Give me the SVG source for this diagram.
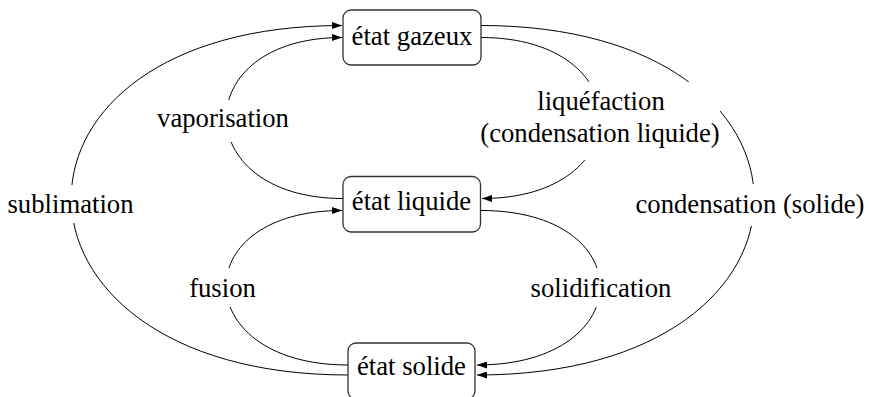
<svg xmlns="http://www.w3.org/2000/svg" width="869" height="397" viewBox="0 0 869 397">
  <style>
    .box { fill: #ffffff; stroke: #333333; stroke-width: 1.3; }
    .lbl { font-family: "Liberation Serif", "Times New Roman", serif; font-size: 26.7px; fill: #000000; text-anchor: middle; }
    .edge { fill: none; stroke: #000000; stroke-width: 1; }
  </style>
  <defs>
    <marker id="arr" markerUnits="userSpaceOnUse" markerWidth="10" markerHeight="7" viewBox="0 0 10 7" refX="10" refY="3.5" orient="auto">
      <path d="M0,0 L10,3.5 L0,7 Z" fill="#000000"/>
    </marker>
    <mask id="gaps" maskUnits="userSpaceOnUse" x="0" y="0" width="869" height="397">
      <rect x="0" y="0" width="869" height="397" fill="#ffffff"/>
      <rect x="4" y="185" width="134" height="38" fill="#000000"/>
      <rect x="154" y="100" width="138" height="42" fill="#000000"/>
      <rect x="480" y="82" width="240" height="78" fill="#000000"/>
      <rect x="186" y="268" width="74" height="39" fill="#000000"/>
      <rect x="528" y="268" width="146" height="39" fill="#000000"/>
      <rect x="632" y="184" width="236" height="42" fill="#000000"/>
    </mask>
  </defs>

  <g id="connectors" mask="url(#gaps)">
    <path id="e-sublimation" class="edge" d="M348,375 C-17,375 -23,25.5 342,25.5" marker-end="url(#arr)"/>
    <path id="e-vaporisation" class="edge" d="M343,198.5 C188,198.5 187,37.5 342,37.5" marker-end="url(#arr)"/>
    <path id="e-fusion" class="edge" d="M348,365 C189,365 184,210.5 342,210.5" marker-end="url(#arr)"/>
    <path id="e-liquefaction" class="edge" d="M481,37.5 C640,37.5 640,198.5 482,198.5" marker-end="url(#arr)"/>
    <path id="e-solidification" class="edge" d="M481,210.5 C642,210.5 639,365 477,365" marker-end="url(#arr)"/>
    <path id="e-condensation" class="edge" d="M481,25.5 C846,25.5 846,375 477,375" marker-end="url(#arr)"/>
  </g>

  <g id="labels">
    <text class="lbl" x="70.5" y="213">sublimation</text>
    <text class="lbl" x="223" y="127">vaporisation</text>
    <text class="lbl" x="601" y="110">liquéfaction</text>
    <text class="lbl" x="600" y="142">(condensation liquide)</text>
    <text class="lbl" x="222.5" y="297">fusion</text>
    <text class="lbl" x="601" y="297">solidification</text>
    <text class="lbl" x="750" y="213">condensation (solide)</text>
  </g>

  <g id="node-gazeux">
    <rect class="box" x="343" y="10" width="138" height="55" rx="8" ry="8"/>
    <text class="lbl" x="412" y="45">état gazeux</text>
  </g>
  <g id="node-liquide">
    <rect class="box" x="343" y="176.5" width="137.5" height="55.5" rx="8" ry="8"/>
    <text class="lbl" x="411.5" y="209.5">état liquide</text>
  </g>
  <g id="node-solide">
    <rect class="box" x="348" y="343" width="127" height="56" rx="8" ry="8"/>
    <text class="lbl" x="411.5" y="375">état solide</text>
  </g>
</svg>
